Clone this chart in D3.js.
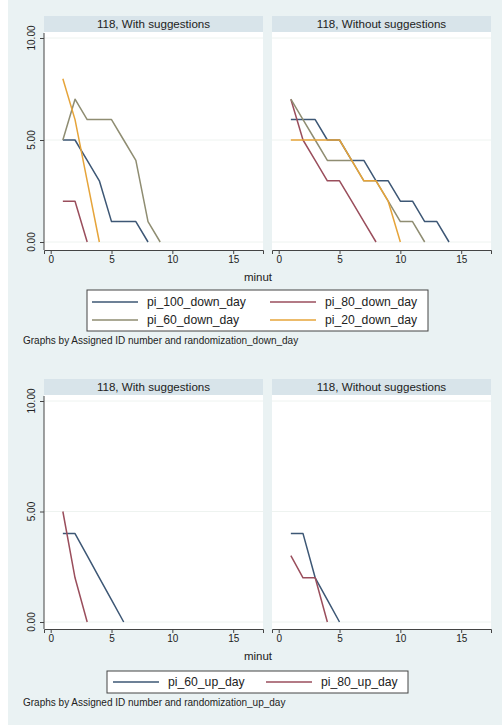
<!DOCTYPE html>
<html>
<head>
<meta charset="utf-8">
<script src="https://cdn.jsdelivr.net/npm/d3@7"></script>
<style>
  body { margin: 0; background: #fff; }
  svg text { font-family: "Liberation Sans", Arial, sans-serif; fill: #222; }
</style>
</head>
<body>
<div id="canvas"></div>
<script>
// panel headers and axis ticks
const panelTitles = ["118, With suggestions", "118, Without suggestions"];
const xTicks = [0, 5, 10, 15];
const yTicks = [0, 5, 10];
const yTickLabels = ["0.00", "5.00", "10.00"];

// values per minute, starting at minute 1
const downNames = ["pi_100_down_day", "pi_80_down_day", "pi_60_down_day", "pi_20_down_day"];
const downWith100 = [5, 5, 4, 3, 1, 1, 1, 0];
const downWith80 = [2, 2, 0];
const downWith60 = [5, 7, 6, 6, 6, 5, 4, 1, 0];
const downWith20 = [8, 6, 3, 0];
const downWithout100 = [6, 6, 6, 5, 5, 4, 4, 3, 3, 2, 2, 1, 1, 0];
const downWithout80 = [7, 5, 4, 3, 3, 2, 1, 0];
const downWithout60 = [7, 6, 5, 4, 4, 4, 3, 3, 2, 1, 1, 0];
const downWithout20 = [5, 5, 5, 5, 5, 4, 3, 3, 2, 0];

const upNames = ["pi_60_up_day", "pi_80_up_day"];
const upWith60 = [4, 4, 3, 2, 1, 0];
const upWith80 = [5, 2, 0];
const upWithout60 = [4, 4, 2, 1, 0];
const upWithout80 = [3, 2, 2, 0];

const notes = ["Graphs by Assigned ID number and randomization_down_day",
               "Graphs by Assigned ID number and randomization_up_day"];

// stata s2color, a bit washed out like the screenshot
const lineColors = ["#3d5775", "#9a4e5c", "#8f8d72", "#e6a43a"];

const W = 502, H = 727;
const svg = d3.select("#canvas").append("svg")
    .attr("width", W).attr("height", H);

svg.append("rect").attr("x", 8).attr("y", 0)
    .attr("width", W - 8).attr("height", 725)
    .attr("fill", "#eaf2f3");

const toPoints = vals => vals.map((v, i) => ({m: i + 1, v: v}));

function drawGraph(cfg) {
    const panelLeft = [44, 272];
    const panelW = 219;
    const g = svg.append("g");

    const y = d3.scaleLinear().domain([0, 10]).range([cfg.y0, cfg.y10]);

    cfg.panels.forEach((series, p) => {
        const x = d3.scaleLinear().domain([-0.55, 17.45])
            .range([panelLeft[p], panelLeft[p] + panelW]);

        // strip
        g.append("rect")
            .attr("x", panelLeft[p]).attr("y", cfg.stripTop)
            .attr("width", panelW).attr("height", 16)
            .attr("fill", "#d8e4ea");
        g.append("text")
            .attr("x", panelLeft[p] + panelW / 2).attr("y", cfg.stripTop + 12)
            .attr("text-anchor", "middle").attr("font-size", 11.6)
            .text(panelTitles[p]);

        // plot region
        g.append("rect")
            .attr("x", panelLeft[p]).attr("y", cfg.stripTop + 16)
            .attr("width", panelW).attr("height", cfg.axisY - cfg.stripTop - 16)
            .attr("fill", "#fff");

        g.selectAll(null).data(yTicks).enter().append("line")
            .attr("x1", panelLeft[p]).attr("x2", panelLeft[p] + panelW)
            .attr("y1", d => y(d)).attr("y2", d => y(d))
            .attr("stroke", "#eef3f0").attr("stroke-width", 1);

        // x axis
        const xa = g.append("g")
            .attr("transform", "translate(0," + cfg.axisY + ")")
            .call(d3.axisBottom(x).tickValues(xTicks).tickSize(4).tickPadding(2)
                .tickFormat(d3.format("d")));
        xa.select(".domain").attr("stroke", "#444");
        xa.selectAll(".tick line").attr("stroke", "#444");
        xa.selectAll("text").attr("font-size", 10).attr("fill", "#222");

        const line = d3.line().x(d => x(d.m)).y(d => y(d.v));
        series.forEach((vals, i) => {
            g.append("path")
                .datum(toPoints(vals))
                .attr("d", line)
                .attr("fill", "none")
                .attr("stroke", lineColors[i])
                .attr("stroke-width", 1.5)
                .attr("stroke-linejoin", "round");
        });
    });

    // y axis only on the left panel
    const ya = g.append("g")
        .attr("transform", "translate(44,0)")
        .call(d3.axisLeft(y).tickValues(yTicks).tickSize(4).tickFormat(""));
    ya.select(".domain").attr("d", "M0," + (cfg.stripTop + 17) + "V" + cfg.axisY)
        .attr("stroke", "#444");
    ya.selectAll(".tick line").attr("stroke", "#444");
    yTicks.forEach((t, i) => {
        g.append("text")
            .attr("transform", "translate(35," + y(t) + ") rotate(-90)")
            .attr("text-anchor", "middle").attr("font-size", 10)
            .text(yTickLabels[i]);
    });

    // x title
    g.append("text")
        .attr("x", 258).attr("y", cfg.axisY + 31)
        .attr("text-anchor", "middle").attr("font-size", 11.5)
        .text("minut");

    // legend
    const lg = cfg.legend;
    g.append("rect")
        .attr("x", lg.x).attr("y", lg.y).attr("width", lg.w).attr("height", lg.h)
        .attr("fill", "#fff").attr("stroke", "#444").attr("stroke-width", 1);
    cfg.names.forEach((name, i) => {
        const col = i % 2, row = Math.floor(i / 2);
        const lx = lg.cols[col], ly = lg.rows[row];
        g.append("line")
            .attr("x1", lx).attr("x2", lx + 46)
            .attr("y1", ly).attr("y2", ly)
            .attr("stroke", lineColors[i]).attr("stroke-width", 1.5);
        g.append("text")
            .attr("x", lx + 55).attr("y", ly + 4)
            .attr("font-size", 12.2)
            .text(name);
    });

    g.append("text")
        .attr("x", 23).attr("y", cfg.noteY)
        .attr("font-size", 10)
        .text(cfg.note);
}

drawGraph({
    stripTop: 16, y10: 38, y0: 242, axisY: 250,
    panels: [[downWith100, downWith80, downWith60, downWith20],
             [downWithout100, downWithout80, downWithout60, downWithout20]],
    names: downNames,
    legend: {x: 87, y: 290, w: 341, h: 41, cols: [92, 270], rows: [302, 320]},
    noteY: 344,
    note: notes[0]
});

drawGraph({
    stripTop: 379, y10: 401, y0: 622, axisY: 629,
    panels: [[upWith60, upWith80], [upWithout60, upWithout80]],
    names: upNames,
    legend: {x: 107, y: 671, w: 301, h: 22, cols: [113, 266], rows: [682]},
    noteY: 706,
    note: notes[1]
});
</script>
</body>
</html>
